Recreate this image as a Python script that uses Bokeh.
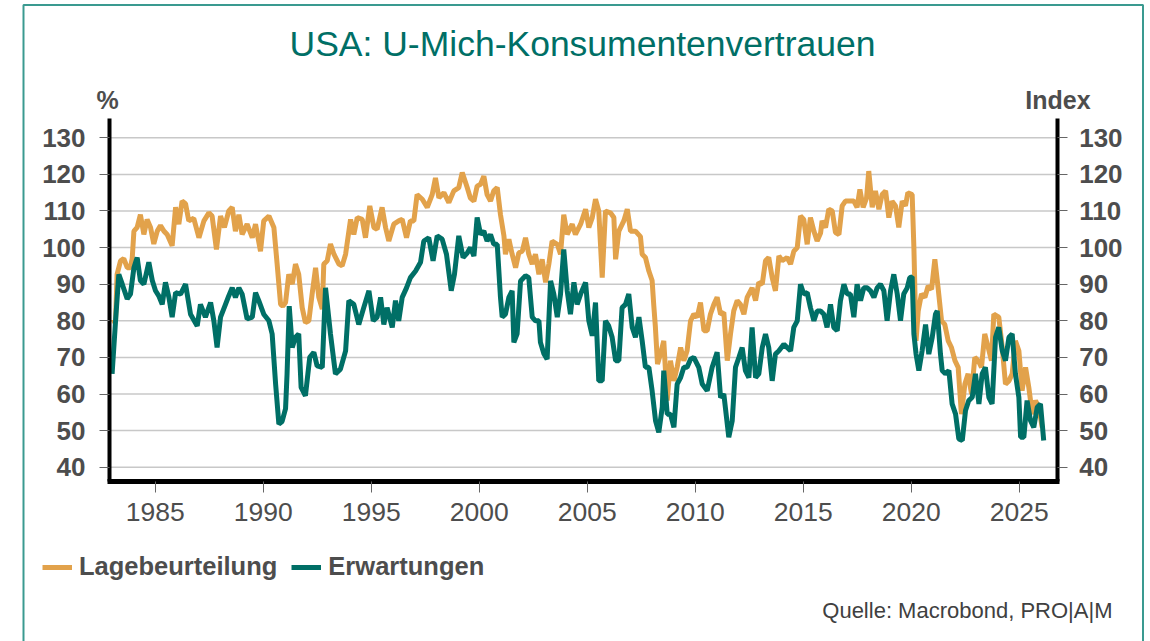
from bokeh.plotting import figure
from bokeh.models import (LinearAxis, FixedTicker, Label, BoxAnnotation, Legend,
                          LegendItem, Range1d)
from bokeh.embed import file_html
from bokeh.resources import INLINE

# ---------------- data ----------------
TITLE = "USA: U-Mich-Konsumentenvertrauen"
LEFT_UNIT = "%"
RIGHT_UNIT = "Index"
SOURCE = "Quelle: Macrobond, PRO|A|M"
SERIES_NAMES = ["Lagebeurteilung", "Erwartungen"]
X_TICKS = [1985, 1990, 1995, 2000, 2005, 2010, 2015, 2020, 2025]
Y_TICKS = [40, 50, 60, 70, 80, 90, 100, 110, 120, 130]
X_AXIS_SPAN = [1982.88, 2026.755]   # time span covered by the plot box
Y_AXIS_SPAN = [35.96, 135.27]       # value span covered by the plot box

lage_t = [1983.00, 1983.16, 1983.23, 1983.39, 1983.54, 1983.70, 1983.85, 1983.93, 1984.01, 1984.16,
          1984.31, 1984.47, 1984.62, 1984.78, 1984.93, 1985.09, 1985.24, 1985.40, 1985.55, 1985.78,
          1985.94, 1986.09, 1986.24, 1986.40, 1986.55, 1986.78, 1987.02, 1987.25, 1987.48, 1987.63,
          1987.83, 1988.02, 1988.20, 1988.40, 1988.56, 1988.71, 1988.87, 1989.02, 1989.25, 1989.49,
          1989.64, 1989.87, 1990.02, 1990.26, 1990.49, 1990.64, 1990.80, 1990.90, 1991.03, 1991.18,
          1991.34, 1991.49, 1991.64, 1991.80, 1991.95, 1992.11, 1992.26, 1992.42, 1992.57, 1992.73,
          1992.80, 1992.96, 1993.11, 1993.27, 1993.50, 1993.65, 1993.81, 1994.04, 1994.19, 1994.35,
          1994.58, 1994.73, 1994.93, 1995.12, 1995.27, 1995.50, 1995.66, 1995.81, 1996.04, 1996.27,
          1996.43, 1996.63, 1996.81, 1996.97, 1997.12, 1997.36, 1997.59, 1997.82, 1997.97, 1998.13,
          1998.36, 1998.59, 1998.82, 1999.05, 1999.21, 1999.44, 1999.59, 1999.75, 1999.90, 2000.06,
          2000.21, 2000.36, 2000.52, 2000.67, 2000.83, 2000.98, 2001.14, 2001.21, 2001.37, 2001.52,
          2001.68, 2001.83, 2001.99, 2002.14, 2002.29, 2002.45, 2002.60, 2002.76, 2002.91, 2003.07,
          2003.22, 2003.37, 2003.61, 2003.76, 2003.91, 2004.07, 2004.30, 2004.45, 2004.69, 2004.92,
          2005.07, 2005.23, 2005.38, 2005.53, 2005.69, 2005.84, 2006.07, 2006.23, 2006.31, 2006.46,
          2006.69, 2006.85, 2007.00, 2007.23, 2007.46, 2007.54, 2007.69, 2007.85, 2008.00, 2008.08,
          2008.15, 2008.25, 2008.39, 2008.54, 2008.70, 2008.85, 2009.01, 2009.16, 2009.32, 2009.47,
          2009.62, 2009.78, 2009.93, 2010.09, 2010.24, 2010.40, 2010.55, 2010.70, 2010.86, 2011.01,
          2011.17, 2011.32, 2011.48, 2011.63, 2011.78, 2011.94, 2012.09, 2012.25, 2012.40, 2012.63,
          2012.79, 2012.94, 2013.10, 2013.25, 2013.40, 2013.56, 2013.71, 2013.87, 2014.02, 2014.25,
          2014.41, 2014.56, 2014.72, 2014.87, 2015.02, 2015.18, 2015.33, 2015.49, 2015.64, 2015.80,
          2015.87, 2016.03, 2016.18, 2016.34, 2016.49, 2016.65, 2016.80, 2016.95, 2017.18, 2017.34,
          2017.49, 2017.62, 2017.77, 2017.93, 2018.03, 2018.19, 2018.34, 2018.50, 2018.65, 2018.81,
          2018.96, 2019.11, 2019.27, 2019.42, 2019.58, 2019.73, 2019.84, 2020.04, 2020.12, 2020.22,
          2020.32, 2020.47, 2020.63, 2020.78, 2020.94, 2021.09, 2021.24, 2021.40, 2021.55, 2021.71,
          2021.86, 2022.02, 2022.17, 2022.32, 2022.48, 2022.63, 2022.79, 2022.94, 2023.10, 2023.25,
          2023.40, 2023.56, 2023.71, 2023.82, 2024.05, 2024.21, 2024.36, 2024.52, 2024.67, 2024.82,
          2024.98, 2025.13, 2025.29, 2025.44, 2025.60, 2025.75, 2025.90, 2026.06]
lage_v = [79.5, 80, 92.7, 96.4, 97, 94.5, 94.5, 97, 104.5, 105.5,
          109, 103.6, 107.7, 105.5, 101, 104.5, 106, 104.5, 103.6, 100.5,
          111, 106.4, 112.7, 112, 107.3, 108, 102.7, 107.3, 109.5, 108.6,
          99.5, 108.6, 105.5, 110, 111, 104.5, 109, 103.6, 106.4, 102.7,
          106.4, 99, 107.3, 108.6, 105.5, 95.5, 84.5, 84, 85, 92.7,
          90, 95.5, 92.7, 83.6, 79.5, 80, 87.3, 94.5, 86.4, 83.2,
          95.5, 96.4, 101, 98.2, 95.5, 95, 98.2, 107.7, 103.6, 108.2,
          107.7, 102.7, 111.4, 105.5, 105, 111, 105.5, 101.8, 106.4, 107.3,
          107.7, 102.7, 107.3, 107.3, 114.5, 113.2, 111, 114.5, 119, 113.6,
          115, 112.3, 115.5, 116.4, 120.5, 116.4, 113.5, 112.7, 116.8, 117.3,
          119.5, 114.5, 112.7, 115.5, 116.4, 109, 103.2, 98.2, 102.3, 98.2,
          94.5, 98.6, 99, 102.7, 98.2, 95.5, 98.2, 92.7, 96.8, 90.5,
          95.5, 101.8, 100.9, 98.2, 109, 103.6, 106.4, 103.6, 106.4, 110.5,
          105.5, 108.2, 113.2, 110, 91.8, 110, 109.5, 108.2, 96.8, 104.5,
          107.3, 110.5, 104.5, 104.5, 103, 98.2, 97.3, 93.6, 91, 84,
          78.5, 68.2, 71, 74.5, 58.2, 69.1, 63.6, 67.3, 72.7, 69.1,
          71.8, 80, 81.8, 81, 85, 77.3, 77.3, 81.8, 84.5, 86.4,
          81.8, 82.3, 69.1, 76.4, 82.7, 85.5, 84.5, 81.8, 86.4, 89,
          85.5, 90.5, 90, 96.4, 97.3, 91.8, 88.2, 97.7, 96.4, 97.3,
          95.5, 99, 100, 108.6, 107.7, 100.9, 108.2, 104.5, 101.8, 104,
          107.3, 105.5, 110.5, 110, 104.1, 103.6, 111.4, 112.7, 112.7, 112.7,
          111, 115.9, 111, 113.6, 120.9, 111, 115.5, 110.5, 114.5, 115.5,
          108.2, 112.7, 111.4, 105.5, 112.7, 111.4, 115, 114.5, 100, 74.5,
          82.7, 87.3, 86.4, 89.5, 88.6, 96.8, 89, 80, 79, 74.5,
          72.7, 69.1, 67.3, 54.5, 62.7, 65.5, 60, 70, 69.1, 67.3,
          76.4, 72.7, 69.1, 81.8, 81, 72.7, 62.7, 63.6, 65.5, 74.5,
          71.8, 60.9, 67.3, 61.8, 54.5, 58.2, 56.4, 50.9]

erw_t = [1983.00, 1983.16, 1983.31, 1983.47, 1983.70, 1983.85, 1984.01, 1984.16, 1984.31, 1984.47,
         1984.70, 1984.86, 1985.01, 1985.16, 1985.32, 1985.47, 1985.63, 1985.78, 1985.94, 1986.17,
         1986.40, 1986.63, 1986.94, 1987.09, 1987.32, 1987.56, 1987.71, 1987.86, 1988.02, 1988.25,
         1988.40, 1988.56, 1988.71, 1988.87, 1989.02, 1989.25, 1989.49, 1989.64, 1989.79, 1990.02,
         1990.26, 1990.41, 1990.57, 1990.72, 1990.87, 1991.03, 1991.10, 1991.20, 1991.34, 1991.49,
         1991.64, 1991.75, 1991.95, 1992.15, 1992.34, 1992.49, 1992.73, 1992.88, 1993.11, 1993.34,
         1993.57, 1993.81, 1993.96, 1994.19, 1994.42, 1994.65, 1994.89, 1995.09, 1995.27, 1995.43,
         1995.58, 1995.73, 1995.97, 1996.12, 1996.27, 1996.43, 1996.63, 1996.81, 1997.05, 1997.28,
         1997.43, 1997.66, 1997.86, 1998.05, 1998.28, 1998.48, 1998.70, 1998.85, 1999.05, 1999.25,
         1999.44, 1999.59, 1999.75, 1999.90, 2000.06, 2000.21, 2000.36, 2000.52, 2000.67, 2000.83,
         2000.98, 2001.06, 2001.21, 2001.37, 2001.52, 2001.60, 2001.75, 2001.91, 2002.14, 2002.29,
         2002.45, 2002.60, 2002.76, 2002.83, 2002.99, 2003.14, 2003.30, 2003.45, 2003.61, 2003.76,
         2003.91, 2004.07, 2004.22, 2004.38, 2004.53, 2004.69, 2004.92, 2005.07, 2005.23, 2005.38,
         2005.53, 2005.69, 2005.84, 2005.99, 2006.15, 2006.31, 2006.46, 2006.61, 2006.77, 2006.92,
         2007.08, 2007.23, 2007.39, 2007.54, 2007.69, 2007.85, 2008.00, 2008.16, 2008.31, 2008.47,
         2008.54, 2008.70, 2008.85, 2009.01, 2009.16, 2009.32, 2009.47, 2009.62, 2009.78, 2009.93,
         2010.16, 2010.32, 2010.55, 2010.78, 2011.01, 2011.17, 2011.32, 2011.55, 2011.71, 2011.86,
         2012.02, 2012.17, 2012.32, 2012.48, 2012.63, 2012.79, 2012.94, 2013.10, 2013.25, 2013.40,
         2013.56, 2013.71, 2013.87, 2014.10, 2014.25, 2014.41, 2014.56, 2014.72, 2014.87, 2015.02,
         2015.18, 2015.33, 2015.49, 2015.64, 2015.80, 2015.95, 2016.10, 2016.26, 2016.41, 2016.57,
         2016.72, 2016.88, 2017.03, 2017.18, 2017.34, 2017.49, 2017.65, 2017.80, 2017.96, 2018.11,
         2018.27, 2018.42, 2018.57, 2018.73, 2018.88, 2019.04, 2019.19, 2019.35, 2019.50, 2019.65,
         2019.81, 2019.93, 2020.04, 2020.12, 2020.22, 2020.35, 2020.50, 2020.66, 2020.81, 2020.97,
         2021.12, 2021.20, 2021.35, 2021.43, 2021.58, 2021.74, 2021.89, 2022.05, 2022.20, 2022.36,
         2022.51, 2022.66, 2022.82, 2022.97, 2023.13, 2023.28, 2023.43, 2023.59, 2023.74, 2023.90,
         2024.05, 2024.21, 2024.36, 2024.52, 2024.67, 2024.82, 2024.98, 2025.06, 2025.21, 2025.36,
         2025.52, 2025.67, 2025.83, 2025.98, 2026.13]
erw_v = [65.5, 80, 92.7, 90, 86, 87.3, 94.5, 97.3, 91, 90,
         96, 91, 88.2, 86.8, 84.5, 90.5, 86.4, 81, 87.7, 87.3,
         90, 81.8, 78.6, 84.5, 81, 85, 80, 72.7, 81, 84.5,
         86.8, 89, 86.4, 89, 87.3, 80.5, 81, 87.7, 85.5, 81.8,
         80, 76.4, 62.7, 51.8, 52.5, 56, 65.5, 84, 72.7, 75.5,
         76.4, 61.8, 59.5, 70, 71.4, 67.7, 67.3, 89, 76.4, 65.5,
         66.8, 71.8, 85.5, 84.5, 79, 83.6, 88.2, 80, 81, 86.4,
         79, 83.6, 78.2, 85.5, 80, 86.4, 89, 91.8, 93.6, 96,
         101.8, 102.7, 96.4, 103.2, 102.3, 98.2, 88.2, 92.7, 103.2, 97.3,
         98.5, 100, 97.7, 108.2, 103.6, 104.5, 101.8, 103.6, 100.9, 100.9,
         86.4, 81, 81.8, 86.4, 88.2, 74.1, 76.4, 90.9, 92.3, 91.8,
         81, 80, 80, 74.1, 71, 69.5, 90.9, 87.3, 81, 87.3,
         99.5, 88.2, 81.8, 90.5, 84.5, 87.3, 90.5, 80, 75.9, 85,
         63.6, 63.6, 80, 78.6, 75.5, 69.1, 69.1, 83.6, 84.5, 87.3,
         78.2, 75.5, 81, 74.5, 67.3, 67.3, 60.9, 52.7, 49.5, 56.4,
         66.4, 54.5, 54.5, 50.9, 62.7, 64.5, 67.3, 67.3, 69.5, 70,
         67.3, 62.7, 60.9, 67.3, 71.4, 59, 60, 48.2, 52.7, 67.3,
         70, 72.7, 66.4, 64.5, 78.2, 64.5, 65.5, 72.7, 76.4, 72.7,
         63.6, 70.9, 71.8, 73.6, 72.7, 71.8, 78.2, 80, 90, 87.3,
         87.7, 83.6, 80, 82.7, 82.7, 81.8, 78.2, 84.5, 78.2, 77.3,
         85.5, 90, 87.3, 87.3, 81, 90, 85.5, 89, 89, 88.2,
         86.4, 89, 90, 88.2, 80, 88.2, 92.7, 87.3, 80, 87.3,
         89, 91.8, 92, 76.4, 70.9, 66.4, 71.8, 79, 70.9, 75.5,
         81.8, 82.7, 70.9, 66.4, 65.5, 66.4, 57.3, 54.5, 47.7, 47.3,
         55.5, 58.2, 59.1, 65.5, 57.3, 65.5, 67.3, 59.1, 57.3, 75.5,
         78.2, 71.8, 69.1, 75.5, 76.4, 65.5, 59.1, 48.2, 48.2, 58.2,
         52.7, 50.9, 56.4, 57.3, 47.3]

# ---------------- styling ----------------
ORANGE = "#E2A24B"
TEAL = "#006F66"
FRAME_TEAL = "#3A9A90"
TEXT = "#4D4D4D"
FONT = "Liberation Sans"
W, H = 1150, 641

# The frame spans the whole canvas; axes are pinned at the plot-box edges.
p = figure(width=W, height=H, output_backend="svg", toolbar_location=None,
           x_range=Range1d(1977.833, 2031.074), y_range=Range1d(-7.62, 167.51),
           min_border=0, x_axis_type=None, y_axis_type=None)
p.outline_line_color = None
p.background_fill_color = "white"
p.border_fill_color = "white"
p.grid.visible = False

# horizontal grid lines between the two value axes
p.segment(x0=X_AXIS_SPAN[0], x1=X_AXIS_SPAN[1], y0=Y_TICKS, y1=Y_TICKS,
          line_color="#C8C8C8", line_width=1.5)

r1 = p.line(lage_t, lage_v, line_color=ORANGE, line_width=5)
r2 = p.line(erw_t, erw_v, line_color=TEAL, line_width=5)

def style_axis(ax, size, bold):
    ax.axis_line_color = "black"
    ax.major_tick_line_color = "#666666"
    ax.major_tick_line_width = 1
    ax.major_tick_in = 0
    ax.minor_tick_line_color = None
    ax.major_label_text_font = FONT
    ax.major_label_text_font_size = size
    ax.major_label_text_font_style = "bold" if bold else "normal"
    ax.major_label_text_color = TEXT

left_axis = LinearAxis(fixed_location=X_AXIS_SPAN[0], bounds=tuple(Y_AXIS_SPAN),
                       ticker=FixedTicker(ticks=Y_TICKS))
right_axis = LinearAxis(fixed_location=X_AXIS_SPAN[1], bounds=tuple(Y_AXIS_SPAN),
                        ticker=FixedTicker(ticks=Y_TICKS))
bottom_axis = LinearAxis(fixed_location=Y_AXIS_SPAN[0],
                         bounds=(X_AXIS_SPAN[0] - 0.1, X_AXIS_SPAN[1] + 0.1),
                         ticker=FixedTicker(ticks=X_TICKS))
for ax in (left_axis, right_axis):
    style_axis(ax, "26px", True)
    ax.axis_line_width = 4
    ax.major_tick_out = 10
left_axis.major_label_standoff = 14
right_axis.major_label_standoff = 12
style_axis(bottom_axis, "26.5px", False)
bottom_axis.axis_line_width = 5
bottom_axis.major_tick_out = 11
bottom_axis.major_label_standoff = 10

p.add_layout(left_axis, "left")
p.add_layout(right_axis, "right")
p.add_layout(bottom_axis, "below")

# outer teal frame of the graphic (open at the bottom edge)
p.add_layout(BoxAnnotation(left=23, right=1142.5, top=H - 4.5, bottom=-40,
                           left_units="screen", right_units="screen",
                           top_units="screen", bottom_units="screen",
                           fill_alpha=0, line_color=FRAME_TEAL, line_alpha=1,
                           line_width=2))

def lab(text, x, y, size, align="left", bold=False, color=TEXT):
    p.add_layout(Label(x=x, y=H - y, x_units="screen", y_units="screen", text=text,
                       text_font=FONT, text_font_size=size, text_color=color,
                       text_font_style="bold" if bold else "normal",
                       text_align=align, text_baseline="middle"))

lab(TITLE, 582, 43, "35.5px", align="center", color=TEAL)
lab(LEFT_UNIT, 107, 99, "25px", align="center", bold=True)
lab(RIGHT_UNIT, 1057.5, 99, "25px", align="center", bold=True)
lab(SOURCE, 1112, 609.5, "22px", align="right", color="#404040")

legend = Legend(items=[LegendItem(label=SERIES_NAMES[0], renderers=[r1]),
                       LegendItem(label=SERIES_NAMES[1], renderers=[r2])],
                orientation="horizontal", location=(42, H - 581),
                padding=0, margin=0, spacing=14, label_standoff=7,
                glyph_width=30, glyph_height=28,
                border_line_color=None, background_fill_alpha=0,
                label_text_font=FONT, label_text_font_size="25.5px",
                label_text_font_style="bold", label_text_color=TEXT)
p.add_layout(legend, "center")

open("out.html", "w").write(file_html(p, INLINE))
